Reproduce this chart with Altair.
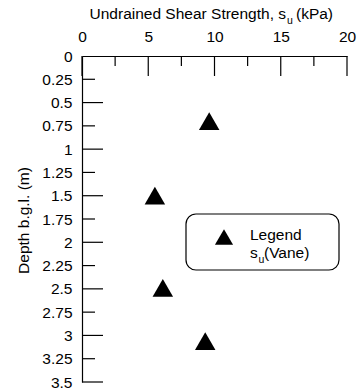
import altair as alt
import pandas as pd

# Vane shear measurements
su_kpa = [9.6, 5.5, 6.1, 9.3]
depth_m = [0.70, 1.50, 2.49, 3.06]

# Axis tick positions
x_major = [0, 5, 10, 15, 20]
x_minor = [2.5, 7.5, 12.5, 17.5]
y_labels = [0, 0.25, 0.5, 0.75, 1, 1.25, 1.5, 1.75, 2, 2.25, 2.5, 2.75, 3, 3.25, 3.5]
y_major = [0.5, 1, 1.5, 2, 2.5, 3, 3.5]
y_minor = [0.25, 0.75, 1.25, 1.75, 2.25, 2.75, 3.25]

FONT = "Liberation Sans"
FS = 15.5

xscale = alt.Scale(domain=[0, 20], nice=False, zero=False)
yscale = alt.Scale(domain=[0, 3.5], reverse=True, nice=False, zero=False)

x_axis = alt.Axis(
    orient="top", values=x_major, title=None, grid=False, ticks=False,
    tickSize=0, labelPadding=12, labelFontSize=FS, labelFont=FONT,
    labelColor="black", domainColor="black", domainWidth=1.2,
    labelFlush=False, labelOverlap=False)
y_axis = alt.Axis(
    orient="left", values=y_labels, format=".2~f", grid=False,
    ticks=False, tickSize=0, labelPadding=10, labelFontSize=FS,
    labelFont=FONT, labelColor="black", domainColor="black",
    domainWidth=1.2, labelFlush=False, labelOverlap=False,
    title="Depth b.g.l. (m)", titleFont=FONT, titleFontSize=FS,
    titleFontWeight="normal", titleColor="black", titleAngle=-90,
    titleX=-59, titleY=164, titleAlign="center", titleBaseline="middle")

pts = pd.DataFrame({"su": su_kpa, "depth": depth_m})

points = alt.Chart(pts).mark_point(
    shape="triangle-up", filled=True, color="black", size=420, opacity=1
).encode(
    x=alt.X("su:Q", scale=xscale, axis=x_axis),
    y=alt.Y("depth:Q", scale=yscale, axis=y_axis),
)

# Inward ticks on the top axis
xt_major = alt.Chart(pd.DataFrame({"v": x_major})).mark_rule(
    color="black", strokeWidth=1.2
).encode(x=alt.X("v:Q", scale=xscale, axis=x_axis), y=alt.value(0), y2=alt.value(20))
xt_minor = alt.Chart(pd.DataFrame({"v": x_minor})).mark_rule(
    color="black", strokeWidth=1.2
).encode(x=alt.X("v:Q", scale=xscale, axis=x_axis), y=alt.value(0), y2=alt.value(10))

# Inward ticks on the depth axis
yt_major = alt.Chart(pd.DataFrame({"v": y_major})).mark_rule(
    color="black", strokeWidth=1.2
).encode(y=alt.Y("v:Q", scale=yscale, axis=y_axis), x=alt.value(0), x2=alt.value(21))
yt_minor = alt.Chart(pd.DataFrame({"v": y_minor})).mark_rule(
    color="black", strokeWidth=1.2
).encode(y=alt.Y("v:Q", scale=yscale, axis=y_axis), x=alt.value(0), x2=alt.value(13))

# Axis title with subscript
title_main = alt.Chart(pd.DataFrame({"t": ["Undrained Shear Strength, s"]})).mark_text(
    align="right", baseline="alphabetic", font=FONT, fontSize=FS, color="black"
).encode(text="t:N", x=alt.value(204), y=alt.value(-37))
title_sub = alt.Chart(pd.DataFrame({"t": ["u"]})).mark_text(
    align="left", baseline="alphabetic", font=FONT, fontSize=10.5, color="black"
).encode(text="t:N", x=alt.value(205), y=alt.value(-32))
title_unit = alt.Chart(pd.DataFrame({"t": ["(kPa)"]})).mark_text(
    align="left", baseline="alphabetic", font=FONT, fontSize=FS, color="black"
).encode(text="t:N", x=alt.value(214), y=alt.value(-37))

# Legend box
leg_box = alt.Chart(pd.DataFrame({"k": [0]})).mark_rect(
    fill="white", stroke="black", strokeWidth=1.2, cornerRadius=10
).encode(x=alt.value(104), x2=alt.value(257), y=alt.value(158), y2=alt.value(214))
leg_sym = alt.Chart(pd.DataFrame({"k": [0]})).mark_point(
    shape="triangle-up", filled=True, color="black", size=330, opacity=1
).encode(x=alt.value(142), y=alt.value(181))
leg_t1 = alt.Chart(pd.DataFrame({"t": ["Legend"]})).mark_text(
    align="left", baseline="alphabetic", font=FONT, fontSize=FS, color="black"
).encode(text="t:N", x=alt.value(168), y=alt.value(184))
leg_t2 = alt.Chart(pd.DataFrame({"t": ["s"]})).mark_text(
    align="left", baseline="alphabetic", font=FONT, fontSize=FS, color="black"
).encode(text="t:N", x=alt.value(168), y=alt.value(202))
leg_t3 = alt.Chart(pd.DataFrame({"t": ["u"]})).mark_text(
    align="left", baseline="alphabetic", font=FONT, fontSize=10.5, color="black"
).encode(text="t:N", x=alt.value(176.5), y=alt.value(207))
leg_t4 = alt.Chart(pd.DataFrame({"t": ["(Vane)"]})).mark_text(
    align="left", baseline="alphabetic", font=FONT, fontSize=FS, color="black"
).encode(text="t:N", x=alt.value(182), y=alt.value(202))

chart = alt.layer(
    points, xt_major, xt_minor, yt_major, yt_minor,
    title_main, title_sub, title_unit,
    leg_box, leg_sym, leg_t1, leg_t2, leg_t3, leg_t4,
).properties(
    width=265, height=326,
    autosize=alt.AutoSizeParams(type="none"),
    padding={"left": 82, "top": 56, "right": 10, "bottom": 7},
    background="white",
).configure_view(stroke=None)

chart.save("out.html", embed_options={"renderer": "svg", "actions": False})
